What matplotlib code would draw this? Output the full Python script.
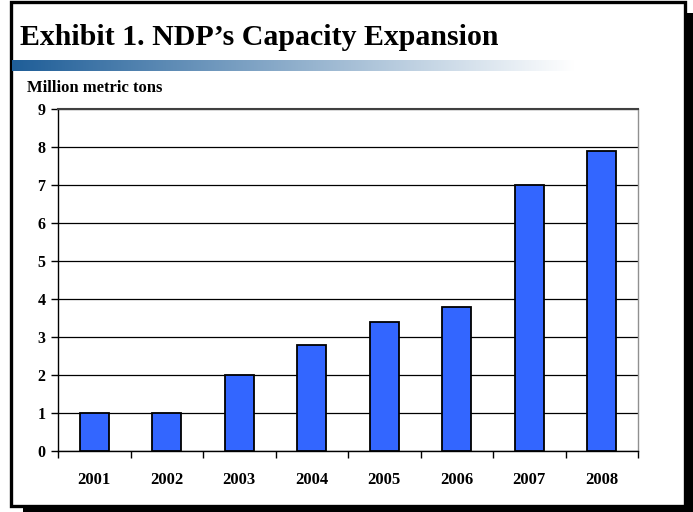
import numpy as np
import matplotlib.pyplot as plt
from matplotlib.patches import Rectangle

years = ["2001", "2002", "2003", "2004", "2005", "2006", "2007", "2008"]
capacity = [1.0, 1.0, 2.0, 2.8, 3.4, 3.8, 7.0, 7.9]
y_ticks = list(range(0, 10))

W, H = 693, 512
plt.rcParams['font.family'] = ['Liberation Serif', 'DejaVu Serif']
plt.rcParams['font.weight'] = 'bold'

fig = plt.figure(figsize=(W / 100, H / 100), dpi=100)


def px_box(x0, y0, x1, y1):
    # pixel box (top-left origin) -> figure fraction rect
    return (x0 / W, 1 - y1 / H, (x1 - x0) / W, (y1 - y0) / H)


# drop shadow and frame, behind everything
shadow = px_box(23, 13, 693, 512)
fig.patches.append(Rectangle(shadow[:2], *shadow[2:], transform=fig.transFigure,
                             facecolor='black', zorder=-3))
frame = px_box(11, 1.5, 684.5, 505.5)
fig.patches.append(Rectangle(frame[:2], *frame[2:], transform=fig.transFigure,
                             facecolor='white', edgecolor='black',
                             linewidth=2.4, zorder=-2))

# gradient strip under the title
gax = fig.add_axes(px_box(12.5, 60, 575, 71))
grad = np.linspace(0, 1, 256)
start = np.array([0x1f, 0x5e, 0x98]) / 255
cols = start[None, :] * (1 - grad[:, None]) + grad[:, None] * 1.0
gax.imshow(cols[None, :, :], aspect='auto', extent=(0, 1, 0, 1))
gax.axis('off')

fig.text(20 / W, 1 - 45 / H, "Exhibit 1. NDP\u2019s Capacity Expansion",
         fontsize=21.5, fontweight='bold', ha='left', va='baseline')
fig.text(27 / W, 1 - 87.5 / H, "Million metric tons", fontsize=12,
         fontweight='bold', ha='left', va='center')

ax = fig.add_axes(px_box(58, 109, 638, 451))
x = np.arange(len(years))
ax.bar(x, capacity, width=0.4, color='#3366ff', edgecolor='black',
       linewidth=1.3, zorder=3)
ax.set_xlim(-0.5, len(years) - 0.5)
ax.set_ylim(0, 9)
ax.set_yticks(y_ticks)
ax.set_yticklabels([str(v) for v in y_ticks], fontsize=11.5, fontweight='bold')
ax.yaxis.grid(True, color='black', linewidth=0.9, zorder=0)
ax.set_axisbelow(True)

ax.set_xticks(np.arange(-0.5, len(years), 1.0))
ax.set_xticklabels([])
ax.set_xticks(x, minor=True)
ax.set_xticklabels(years, minor=True, fontsize=12, fontweight='bold')
ax.tick_params(axis='x', which='major', direction='out', length=5, width=1)
ax.tick_params(axis='x', which='minor', length=0, pad=15)
ax.tick_params(axis='y', direction='out', length=5, width=1, pad=4)

ax.spines['left'].set_color('black')
ax.spines['bottom'].set_color('black')
ax.spines['top'].set_color('#404040')
ax.spines['right'].set_color('#909090')
for s in ax.spines.values():
    s.set_linewidth(1.0)
ax.spines['top'].set_linewidth(1.5)

fig.savefig("out.png", dpi=100)
